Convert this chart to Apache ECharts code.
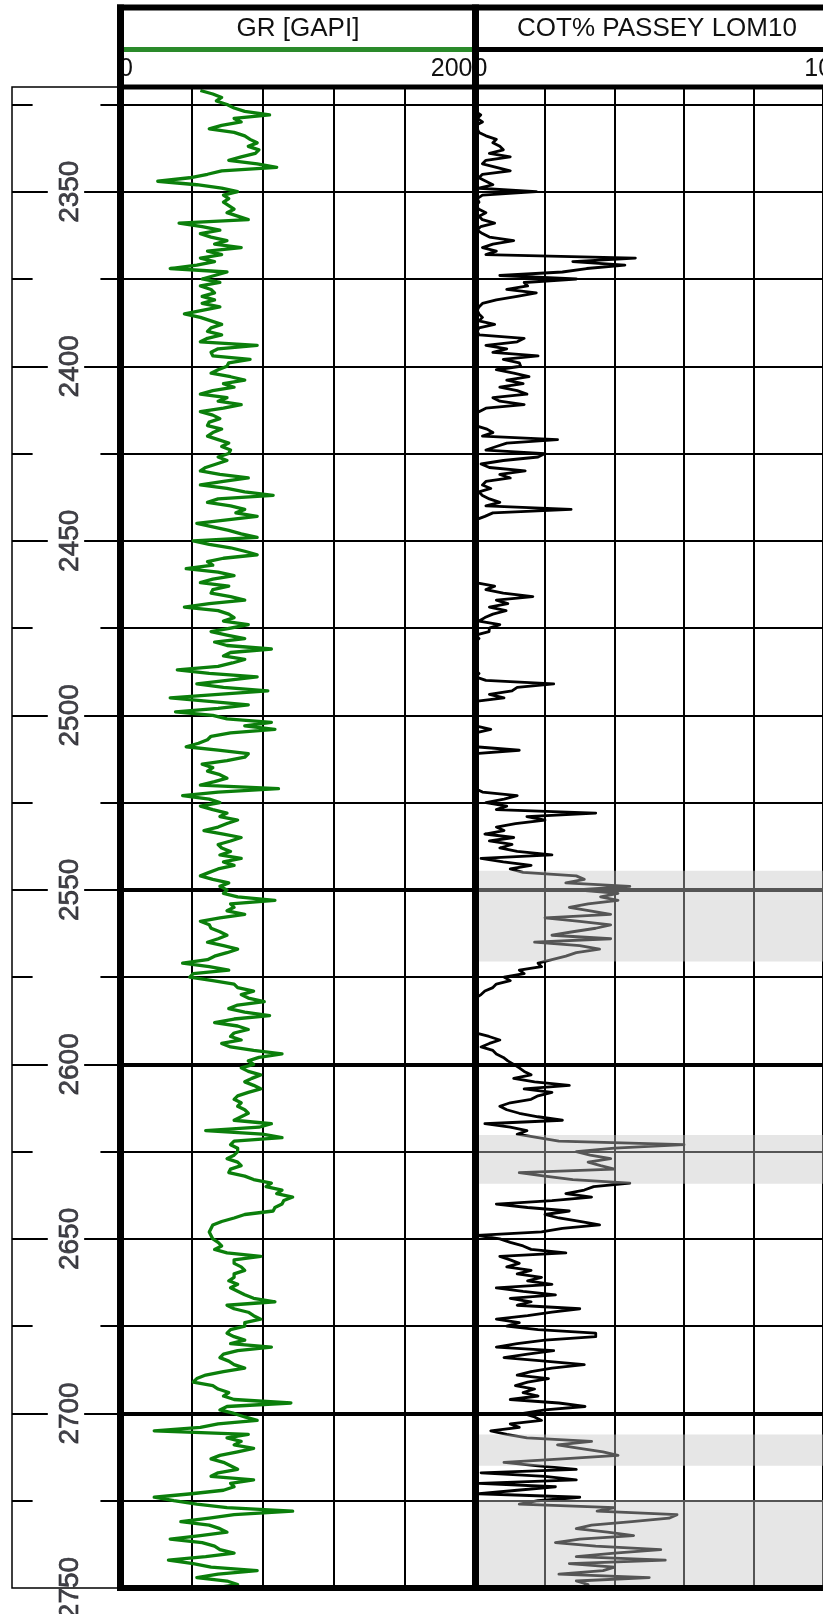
<!DOCTYPE html>
<html>
<head>
<meta charset="utf-8">
<script src="https://cdn.jsdelivr.net/npm/echarts@6/dist/echarts.min.js"></script>
<style>
html,body{margin:0;padding:0;background:#fff;}
#chart{width:823px;height:1614px;}
</style>
</head>
<body>
<div id="chart"></div>
<script>
// ---------------- data ----------------
const trackTitles = ['GR [GAPI]', 'COT% PASSEY LOM10'];
const grScale = ['0', '200'];
const cotScale = ['0', '100'];
const depthRange = [2320, 2750];
const gridDepths = [2325,2350,2375,2400,2425,2450,2475,2500,2525,2550,2575,2600,2625,2650,2675,2700,2725];
const thickDepths = [2550, 2600, 2700];
const labelDepths = [2350,2400,2450,2500,2550,2600,2650,2700,2750];
const tickDepths = [2325,2375,2425,2475,2525,2575,2625,2675,2725];
const shadeBands = [[2544.5,2570.5],[2620.2,2634.2],[2706,2715],[2724.8,2750]];

// sample depths: 1 m steps 2321..2750
const depths = [];
for (let d = 2321; d <= 2750; d++) depths.push(d);

const grValues = [
45,52,57,54,60,64,70,84,64,68,
57,50,64,70,73,77,72,78,76,68,
61,77,88,57,49,39,21,43,57,66,
58,61,58,61,64,60,66,72,33,46,
56,45,51,60,53,68,49,57,45,53,
43,28,60,53,46,56,45,51,53,46,
53,46,56,46,36,45,51,57,51,49,
57,49,45,77,55,51,52,73,61,60,
55,51,62,70,58,64,52,45,60,55,
68,58,45,52,56,50,49,57,52,49,
55,61,57,62,61,55,60,54,48,45,
56,72,58,45,60,70,86,55,49,62,
70,65,77,60,43,52,61,68,77,41,
50,62,70,77,58,49,52,37,55,64,
52,45,61,52,51,62,70,50,36,55,
61,64,58,72,62,51,60,70,53,60,
85,62,58,70,63,55,32,50,77,60,
43,58,83,55,28,50,72,55,31,52,
60,85,70,87,62,51,49,44,37,55,
72,70,60,46,52,49,56,60,53,45,
89,55,35,50,56,45,52,60,56,66,
60,55,47,58,68,62,55,57,62,56,
68,58,64,55,50,45,52,61,56,60,
58,66,87,62,64,60,70,56,45,50,
51,56,60,55,49,58,66,60,53,49,
35,50,61,41,39,52,64,66,75,68,
72,81,66,61,70,84,64,53,66,72,
64,62,68,57,62,75,91,78,72,75,
68,72,79,74,70,75,79,72,66,64,
68,66,70,72,68,64,85,78,48,80,
91,64,62,66,66,64,60,66,68,62,
61,70,75,85,82,91,88,97,92,91,
87,86,70,64,57,52,51,50,51,52,
55,57,53,60,79,64,64,68,70,64,
64,61,66,62,66,70,75,87,60,64,
72,75,79,70,70,62,60,64,70,62,
85,66,58,56,61,64,70,58,48,43,
41,52,55,61,58,64,96,60,56,64,
70,77,55,45,19,72,60,68,64,75,
66,56,51,58,62,66,55,51,75,62,
64,58,40,19,30,43,60,97,64,50,
34,50,56,60,45,28,46,53,56,64,
48,27,41,51,77,55,43,60,66,53
];

const cotValues = [
0,0,0,0,0,0,0,1.5,0.5,2,
0,0.5,1,3,6,5,7,8,4,10,
3,2,6,10,2,1,3,5,1,17.5,
2,0.5,1,0,1,3,1,2,5.5,1.5,
0.5,2,4,11,5,2,6,3,46,28,
43,32,25,7,29,14,15,9,17.5,12,
6,2,1,0.5,1,2,1,5.5,1,0.5,
1,14,12,3,9,5,18,8,12.6,13,
6,11,15.4,9,13.7,7,12,14.8,5,7,
14,3,1,0,0,0.5,0,3.3,5,2,
23.6,9,6,3,20,18,8,1.6,4,14.3,
7,10,3,2,4.4,1,2,4,7,3,
27.5,5,2.7,0,0,0,0,0,0,0,
0,0,0,0,0,0,0,0,0,0,
0,0,5.5,3,8,16.5,6,9.3,4,8.8,
5,2.7,1,7,4,3.9,0,1,0,0,
0,0,0,0,0,0,0,1,0,3,
22.5,12,10.5,4,8.2,0,0,0,0,0,
0,0,0,4.4,0,0,0,0,0,12.6,
0,0,0,0,0,0,0,0,0,0,
0,2,12,8.2,3,9,6,34.6,14.8,20,
11.5,6,8.2,2.7,11,4,10.5,7,12,22,
1.6,8,16,10,13.7,29,31.3,26,44.4,29,
41,36,41,32.4,27,33,38.9,20,30,38.9,
34.6,28,22,38.9,17,30,35.7,29,26,22,
18,19,12.6,14,8.2,10,6,5,2.7,1.6,
0,0,0,0,0,0,0,0,0,0,
0,3.9,7,4,1.6,5,6,8,9.3,11,
12.6,14,16,11,17,27,14,22,18,16,
10,7,9,12.6,18,25,2.7,10,14.8,12,
18,24,60,40,29,33,38.9,32.4,36,40,
12.6,20,28,44.4,34,31.3,26,33.4,22,6,
15,27,20,24,30,35.7,25,19,0.5,7,
10,13.7,16,26,7,10,12.6,9,16,12,
19,15,22,6,13.7,23,10,16,12,30,
22,15,6,12.6,9,18,34.6,34.6,20,12,
6,22.5,15,8.2,20,31.3,22,16,12,21,
15,11.5,17,13.7,18,10,24,31.5,20,13.7,
17,19,10,12.6,4.4,9,14.8,33.4,23.6,30,
36.7,41,25,8.2,18,29,1.6,20,29,1,
23,12,1,30,18,12.6,40,35,58,55.7,
45,33.4,29,38,45.5,30,23,34.6,53.3,40,
29,54.6,27,40,36.7,24,50,29,32.4,30
];

// ---------------- layout ----------------
const W = 823;
const HEAD_TOP = 7.5, PLOT_TOP = 87, PLOT_BOT = 1588;
const DEPTH_L = 12, GR_L = 120.5, DIV_X = 475.5, TRACK_W = 355;
const PLOT_H = PLOT_BOT - PLOT_TOP;
const FONT = '"Liberation Sans", Arial, sans-serif';

const chart = echarts.init(document.getElementById('chart'), null, {renderer: 'canvas'});

const hiddenY = (gi) => ({
  type: 'value', gridIndex: gi, inverse: true, min: depthRange[0], max: depthRange[1],
  show: false
});

function gridLineData() {
  return gridDepths.map(d => ({
    yAxis: d,
    lineStyle: {width: thickDepths.includes(d) ? 4 : 2, color: '#000', type: 'solid'}
  }));
}

const depthTickData = [];
tickDepths.forEach(d => {
  depthTickData.push([{coord: [0, d]}, {coord: [0.19, d]}]);
  depthTickData.push([{coord: [0.815, d]}, {coord: [1, d]}]);
});
labelDepths.forEach(d => {
  if (d >= depthRange[1]) return;
  depthTickData.push([{coord: [0, d]}, {coord: [0.33, d]}]);
  depthTickData.push([{coord: [0.665, d]}, {coord: [1, d]}]);
});

const option = {
  animation: false,
  backgroundColor: '#fff',
  grid: [
    {left: DEPTH_L, top: PLOT_TOP, width: GR_L - DEPTH_L, height: PLOT_H, show: true, borderColor: '#000', borderWidth: 1.5, backgroundColor: 'transparent'},
    {left: GR_L, top: PLOT_TOP, width: TRACK_W, height: PLOT_H},
    {left: DIV_X, top: PLOT_TOP, width: TRACK_W, height: PLOT_H}
  ],
  xAxis: [
    {type: 'value', gridIndex: 0, min: 0, max: 1, show: false},
    {type: 'value', gridIndex: 1, min: 0, max: 200, interval: 40,
      axisLine: {show: false}, axisTick: {show: false}, axisLabel: {show: false},
      splitLine: {show: true, lineStyle: {color: '#000', width: 2}}},
    {type: 'value', gridIndex: 2, min: 0, max: 100, interval: 20,
      axisLine: {show: false}, axisTick: {show: false}, axisLabel: {show: false},
      splitLine: {show: true, lineStyle: {color: '#000', width: 2}}}
  ],
  yAxis: [hiddenY(0), hiddenY(1), hiddenY(2)],
  series: [
    // depth ticks
    {type: 'line', xAxisIndex: 0, yAxisIndex: 0, data: [[0, depthRange[0]]], showSymbol: false,
      lineStyle: {opacity: 0}, silent: true, z: 2,
      markLine: {z: 2, silent: true, symbol: ['none', 'none'], label: {show: false},
        lineStyle: {color: '#000', width: 2, type: 'solid'}, data: depthTickData}},
    // depth labels
    {type: 'scatter', xAxisIndex: 0, yAxisIndex: 0, symbolSize: 1,
      itemStyle: {color: 'transparent'}, silent: true, z: 3,
      data: labelDepths.map(d => [0.54, d]),
      label: {show: true, position: 'inside', rotate: 90, formatter: p => String(p.value[1]),
        fontSize: 28, fontFamily: FONT, color: '#14141c',
        textBorderColor: '#14141c', textBorderWidth: 0.7}},
    // GR grid lines
    {type: 'line', xAxisIndex: 1, yAxisIndex: 1, data: [[0, depthRange[0]]], showSymbol: false,
      lineStyle: {opacity: 0}, silent: true, z: 1,
      markLine: {z: 1, silent: true, symbol: ['none', 'none'], label: {show: false}, data: gridLineData()}},
    // GR curve
    {name: 'GR', type: 'line', xAxisIndex: 1, yAxisIndex: 1, showSymbol: false, z: 3,
      lineStyle: {color: '#0b7f0b', width: 3.3, join: 'round'}, itemStyle: {color: '#0b7f0b'},
      data: depths.map((d, i) => [grValues[i], d])},
    // COT grid lines
    {type: 'line', xAxisIndex: 2, yAxisIndex: 2, data: [[0, depthRange[0]]], showSymbol: false,
      lineStyle: {opacity: 0}, silent: true, z: 1,
      markLine: {z: 1, silent: true, symbol: ['none', 'none'], label: {show: false}, data: gridLineData()}},
    // COT curve
    {name: 'COT', type: 'line', xAxisIndex: 2, yAxisIndex: 2, showSymbol: false, z: 3,
      lineStyle: {color: '#000', width: 2.8, join: 'round'}, itemStyle: {color: '#000'},
      data: depths.map((d, i) => [cotValues[i], d])},
    // shaded zones (semi-transparent overlay above curve)
    {type: 'line', xAxisIndex: 2, yAxisIndex: 2, data: [[0, depthRange[0]]], showSymbol: false,
      lineStyle: {opacity: 0}, silent: true, z: 10,
      markArea: {z: 10, silent: true, itemStyle: {color: 'rgba(197,197,197,0.43)'},
        data: shadeBands.map(b => [{yAxis: b[0]}, {yAxis: b[1]}])}}
  ],
  graphic: [
    // header texts
    {type: 'text', z: 99, style: {text: trackTitles[0], x: (GR_L + DIV_X) / 2, y: 29, align: 'center', verticalAlign: 'middle', font: '26px ' + FONT, fill: '#111'}},
    {type: 'text', z: 99, style: {text: trackTitles[1], x: DIV_X + TRACK_W / 2 + 4, y: 29, align: 'center', verticalAlign: 'middle', font: '26px ' + FONT, fill: '#111'}},
    {type: 'text', z: 99, style: {text: grScale[0], x: GR_L - 1.5, y: 69.5, align: 'left', verticalAlign: 'middle', font: '25px ' + FONT, fill: '#111'}},
    {type: 'text', z: 99, style: {text: grScale[1], x: DIV_X - 3, y: 69.5, align: 'right', verticalAlign: 'middle', font: '25px ' + FONT, fill: '#111'}},
    {type: 'text', z: 99, style: {text: cotScale[0], x: DIV_X - 2, y: 69.5, align: 'left', verticalAlign: 'middle', font: '25px ' + FONT, fill: '#111'}},
    {type: 'text', z: 99, style: {text: cotScale[1], x: 846, y: 69.5, align: 'right', verticalAlign: 'middle', font: '25px ' + FONT, fill: '#111'}},
    // curve header bars
    {type: 'line', z: 100, shape: {x1: GR_L, y1: 49.5, x2: DIV_X, y2: 49.5}, style: {stroke: '#2a8a2a', lineWidth: 5}},
    {type: 'line', z: 100, shape: {x1: DIV_X, y1: 49.5, x2: W, y2: 49.5}, style: {stroke: '#000', lineWidth: 5}},
    // frame
    {type: 'line', z: 101, shape: {x1: GR_L - 3.5, y1: HEAD_TOP, x2: W, y2: HEAD_TOP}, style: {stroke: '#000', lineWidth: 6}},
    {type: 'line', z: 101, shape: {x1: GR_L, y1: HEAD_TOP - 3, x2: GR_L, y2: PLOT_BOT + 3}, style: {stroke: '#000', lineWidth: 7}},
    {type: 'line', z: 101, shape: {x1: DIV_X, y1: HEAD_TOP - 3, x2: DIV_X, y2: PLOT_BOT + 3}, style: {stroke: '#000', lineWidth: 7}},
    {type: 'line', z: 101, shape: {x1: GR_L, y1: PLOT_TOP, x2: W, y2: PLOT_TOP}, style: {stroke: '#000', lineWidth: 5}},
    {type: 'line', z: 101, shape: {x1: GR_L - 3.5, y1: PLOT_BOT, x2: W, y2: PLOT_BOT}, style: {stroke: '#000', lineWidth: 6}}
  ]
};
chart.setOption(option);
</script>
</body>
</html>
